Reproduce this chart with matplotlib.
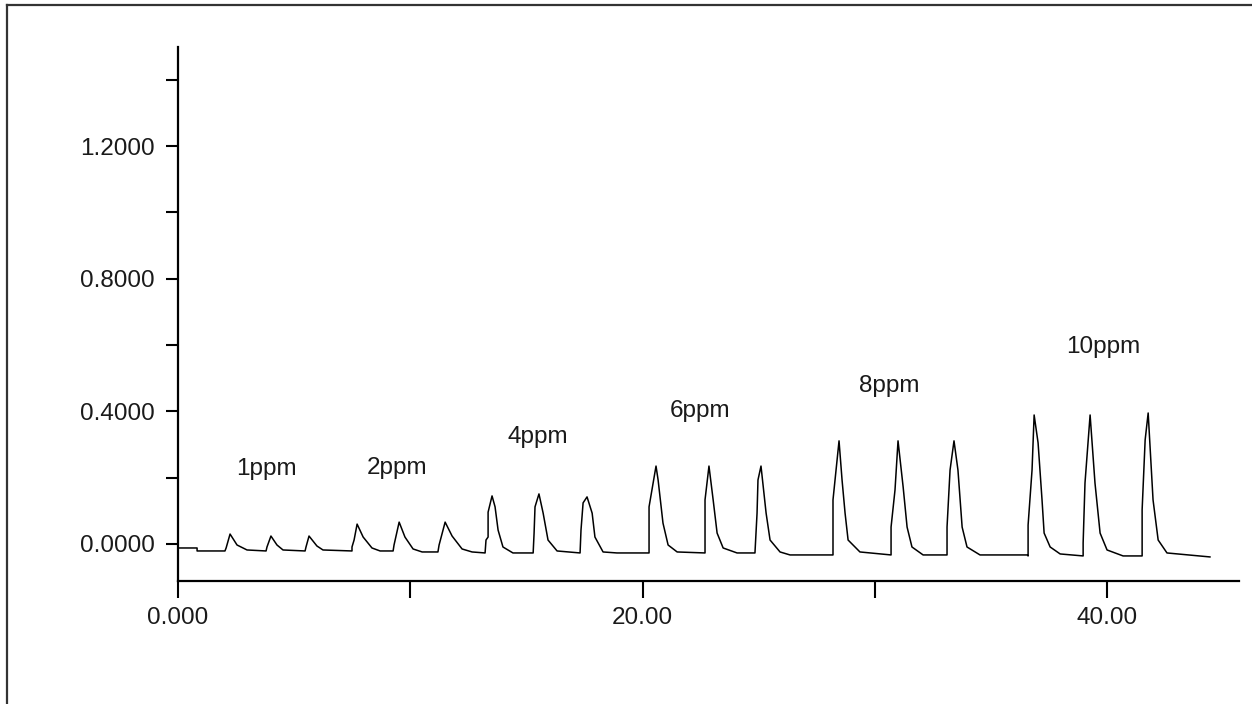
import matplotlib
matplotlib.use("Agg")
import matplotlib.pyplot as plt
from matplotlib.lines import Line2D
from matplotlib.ticker import FixedLocator, FuncFormatter

plt.rcParams["font.family"] = ["Liberation Sans", "DejaVu Sans"]

# #############################################################################
# Detector trace (time in min, signal in AU)
time = [
    0.00, 0.82, 0.82, 2.02,
    2.07, 2.24, 2.54, 2.97, 3.79,
    3.83, 4.00, 4.26, 4.52, 5.47,
    5.51, 5.64, 5.98, 6.24, 7.49,
    7.49, 7.58, 7.71, 7.97, 8.35, 8.70, 9.26,
    9.30, 9.52, 9.77, 10.12, 10.51, 11.19,
    11.24, 11.50, 11.80, 12.23, 12.66, 13.22,
    13.26, 13.35, 13.35, 13.52, 13.65, 13.78, 13.99, 14.42, 15.24,
    15.29, 15.33, 15.37, 15.54, 15.72, 15.93, 16.32, 17.31,
    17.35, 17.44, 17.61, 17.83, 17.95, 18.30, 18.90, 20.19,
    20.28, 20.28, 20.58, 20.67, 20.88, 21.10, 21.49, 22.65,
    22.69, 22.69, 22.86, 23.04, 23.21, 23.47, 24.07, 24.84,
    24.93, 24.97, 25.10, 25.32, 25.49, 25.92, 26.35, 28.16,
    28.20, 28.20, 28.46, 28.59, 28.72, 28.85, 29.36, 30.66,
    30.70, 30.70, 30.87, 31.00, 31.22, 31.39, 31.60, 32.08, 32.94,
    33.11, 33.11, 33.24, 33.41, 33.58, 33.76, 33.97, 34.53, 36.56,
    36.60, 36.60, 36.77, 36.86, 37.03, 37.20, 37.29, 37.55, 37.98, 38.92,
    38.97, 38.97, 39.05, 39.27, 39.48, 39.70, 40.00, 40.69, 41.46,
    41.51, 41.51, 41.64, 41.77, 41.98, 42.20, 42.58, 44.43,
]
signal = [
    -0.012, -0.012, -0.021, -0.021,
    -0.012, 0.030, -0.003, -0.018, -0.021,
    -0.009, 0.024, -0.003, -0.018, -0.021,
    -0.009, 0.024, -0.006, -0.018, -0.021,
    -0.009, 0.012, 0.060, 0.021, -0.012, -0.021, -0.021,
    -0.003, 0.066, 0.021, -0.015, -0.024, -0.024,
    -0.003, 0.066, 0.024, -0.015, -0.024, -0.027,
    0.012, 0.021, 0.096, 0.145, 0.112, 0.042, -0.009, -0.027, -0.027,
    -0.027, 0.033, 0.112, 0.151, 0.093, 0.012, -0.021, -0.027,
    0.042, 0.124, 0.142, 0.093, 0.021, -0.024, -0.027, -0.027,
    -0.027, 0.112, 0.235, 0.193, 0.063, -0.003, -0.024, -0.027,
    -0.027, 0.133, 0.235, 0.133, 0.033, -0.012, -0.027, -0.027,
    0.093, 0.193, 0.235, 0.093, 0.012, -0.024, -0.033, -0.033,
    -0.033, 0.133, 0.311, 0.193, 0.093, 0.012, -0.024, -0.033,
    -0.033, 0.051, 0.163, 0.311, 0.172, 0.051, -0.009, -0.033, -0.033,
    -0.033, 0.051, 0.223, 0.311, 0.223, 0.051, -0.009, -0.033, -0.033,
    -0.036, 0.057, 0.223, 0.389, 0.305, 0.133, 0.033, -0.009, -0.030, -0.036,
    -0.036, 0.003, 0.184, 0.389, 0.184, 0.033, -0.018, -0.036, -0.036,
    -0.036, 0.103, 0.314, 0.395, 0.133, 0.012, -0.027, -0.039,
]

# concentration labels above each group of three injections
labels = ["1ppm", "2ppm", "4ppm", "6ppm", "8ppm", "10ppm"]
label_x = [3.81, 9.45, 15.48, 22.48, 30.61, 39.85]
label_y = [0.208, 0.211, 0.305, 0.383, 0.458, 0.576]

x_major = [0, 20, 40]
x_minor = [10, 30]
y_major = [0.0, 0.4, 0.8, 1.2]
y_minor = [0.2, 0.6, 1.0, 1.4]

# #############################################################################
fig = plt.figure(figsize=(12.52, 7.04), dpi=100)
ax = fig.add_axes([0.1422, 0.1747, 0.8474, 0.7585])

ax.plot(time, signal, color="black", lw=1.1)

for name, lx, ly in zip(labels, label_x, label_y):
    ax.text(lx, ly, name, ha="center", va="baseline", fontsize=17.5, color="#1a1a1a")

ax.set_xlim(0, 45.68)
ax.set_ylim(-0.1116, 1.4985)

ax.xaxis.set_major_locator(FixedLocator(x_major))
ax.xaxis.set_minor_locator(FixedLocator(x_minor))
ax.yaxis.set_major_locator(FixedLocator(y_major))
ax.yaxis.set_minor_locator(FixedLocator(y_minor))
ax.xaxis.set_major_formatter(FuncFormatter(lambda v, p: "0.000" if v == 0 else f"{v:.2f}"))
ax.yaxis.set_major_formatter(FuncFormatter(lambda v, p: f"{v:.4f}"))

ax.tick_params(axis="x", which="both", direction="out", length=12, width=1.5,
               pad=7, labelsize=17.5, labelcolor="#1a1a1a")
ax.tick_params(axis="y", which="both", direction="out", length=9, width=1.5,
               pad=8, labelsize=17.5, labelcolor="#1a1a1a")

for side in ["top", "right"]:
    ax.spines[side].set_visible(False)
for side in ["left", "bottom"]:
    ax.spines[side].set_linewidth(1.6)

# frame round the figure (only top and left edges show in the picture)
fig.add_artist(Line2D([0.0056, 0.0056], [0.0, 0.9929], color="#333333", lw=1.6))
fig.add_artist(Line2D([0.0056, 1.0], [0.9929, 0.9929], color="#333333", lw=1.6))

plt.savefig("out.png", dpi=100)
